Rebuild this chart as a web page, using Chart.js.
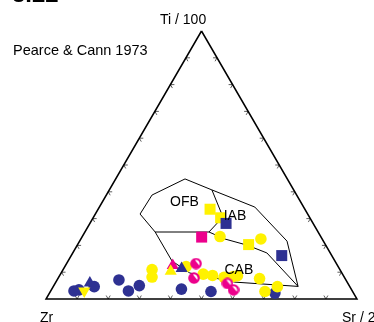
<!DOCTYPE html>
<html lang="en">
<head>
  <meta charset="utf-8"/>
  <title>Ti-Zr-Sr Pearce & Cann 1973</title>
  <script src="https://cdn.jsdelivr.net/npm/chart.js"></script>
  <style>
    html, body { margin: 0; padding: 0; background: #fff; }
    #chart { display: block; }
  </style>
</head>
<body>
  <canvas id="chart" width="374" height="322"></canvas>

<script>
  // all compositions are [Ti/100, Zr, Sr/2] in percent
  const corners = [[100, 0, 0], [0, 100, 0], [0, 0, 100], [100, 0, 0]];
  const tickSteps = [10, 20, 30, 40, 50, 60, 70, 80, 90];

  // field boundaries
  const outerField = [[31.7, 53.9, 14.4], [38.8, 46.5, 14.7], [44.8, 32.9, 22.3], [40.7, 26.3, 33.0],
    [34.3, 15.7, 50.0], [21.6, 11.7, 66.7], [4.7, 16.6, 78.7], [6.3, 36.1, 57.6], [9.7, 48.9, 41.4],
    [14.2, 52.4, 33.4], [25.0, 52.4, 22.6], [31.7, 53.9, 14.4]];
  const ofbCabLine = [[25.0, 52.4, 22.6], [25.0, 35.1, 39.9]];
  const ofbIabLine = [[40.7, 26.3, 33.0], [30.6, 27.8, 41.6], [25.0, 35.1, 39.9]];
  const iabCabLine = [[25.0, 35.1, 39.9], [22.4, 31.3, 46.4], [20.1, 25.3, 54.6], [17.2, 20.4, 62.5], [4.7, 16.6, 78.7]];
  const fieldNames = ['OFB', 'IAB', 'CAB'];
  const fieldNameSpots = [[36.4, 37.3, 26.3], [31.3, 23.6, 45.1], [11.2, 32.4, 56.4]];

  // samples
  const navyCircles = [[3.0, 89.5, 7.5], [3.4, 87.7, 8.9], [4.6, 82.2, 13.2], [7.1, 73.0, 19.9],
    [3.0, 72.0, 25.0], [5.0, 67.5, 27.5], [3.7, 54.6, 41.7], [2.8, 45.6, 51.7], [2.2, 25.3, 72.5]];
  const navyTriangles = [[6.0, 82.9, 11.1], [11.4, 50.7, 37.9]];
  const navySquares = [[28.2, 28.0, 43.8], [16.2, 16.1, 67.7]];
  const yellowCircles = [[11.0, 60.4, 28.6], [8.2, 61.8, 30.0], [12.1, 48.9, 39.0], [9.3, 44.8, 45.9],
    [8.8, 42.1, 49.2], [8.1, 38.7, 53.2], [8.4, 35.6, 56.0], [8.7, 34.1, 57.2], [7.6, 27.5, 64.8],
    [2.8, 28.2, 69.0], [4.6, 23.3, 72.1], [23.3, 32.4, 44.3], [22.4, 19.7, 57.9]];
  const yellowSquares = [[33.5, 30.5, 36.0], [30.3, 28.7, 41.0], [20.3, 24.7, 55.0]];
  const yellowTriangles = [[10.4, 54.7, 34.9]];
  const yellowDownTriangles = [[3.0, 86.2, 10.8]];
  const magentaSquares = [[23.1, 38.4, 38.5]];
  const magentaTriangles = [[12.5, 53.0, 34.5]];
  const magentaHalfCircles = [[13.2, 45.1, 41.6], [7.8, 48.5, 43.7], [5.8, 38.8, 55.5], [3.4, 38.0, 58.6]];

  const NAVY = '#2e3192';
  const YELLOW = '#fff200';
  const MAGENTA = '#ec008c';

  // ternary -> cartesian (x along base, y = Ti fraction)
  function toXY(c) {
    const s = c[0] + c[1] + c[2];
    return { x: (c[2] + c[0] / 2) / s, y: c[0] / s };
  }

  // half filled magenta symbol
  const halfDot = document.createElement('canvas');
  halfDot.width = 12; halfDot.height = 12;
  (function () {
    const g = halfDot.getContext('2d');
    g.fillStyle = MAGENTA;
    g.beginPath(); g.arc(6, 6, 5.8, 0, Math.PI * 2); g.fill();
    g.fillStyle = '#fff';
    g.beginPath(); g.arc(6, 6, 3.6, -Math.PI * 0.6, Math.PI * 0.15); g.closePath(); g.fill();
  })();

  function pts(arr, color, style, r, rot) {
    return {
      data: arr.map(toXY),
      pointStyle: style,
      pointRadius: r,
      pointRotation: rot || 0,
      backgroundColor: color,
      borderColor: color,
      pointBorderWidth: 0,
      showLine: false
    };
  }

  function line(arr, w) {
    return {
      data: arr.map(toXY),
      showLine: true,
      borderColor: '#000',
      borderWidth: w,
      pointRadius: 0,
      fill: false
    };
  }

  const LW = Math.SQRT2 * 5.5;  // square of about 11px

  const ternaryDecor = {
    id: 'ternaryDecor',
    beforeDatasetsDraw(chart) {
      const ctx = chart.ctx;
      const xs = chart.scales.x, ys = chart.scales.y;
      const P = (c) => { const q = toXY(c); return [xs.getPixelForValue(q.x), ys.getPixelForValue(q.y)]; };
      const A = P([100, 0, 0]), L = P([0, 100, 0]), R = P([0, 0, 100]);
      const norm = (v) => { const d = Math.hypot(v[0], v[1]); return [v[0] / d, v[1] / d]; };
      const upRight = norm([A[0] - L[0], A[1] - L[1]]);
      const upLeft = norm([A[0] - R[0], A[1] - R[1]]);
      const len = 4;
      ctx.save();
      ctx.strokeStyle = '#333';
      ctx.lineWidth = 0.8;
      const tick = (p, d1, d2) => {
        ctx.beginPath();
        ctx.moveTo(p[0] + d1[0] * len, p[1] + d1[1] * len);
        ctx.lineTo(p[0], p[1]);
        ctx.lineTo(p[0] + d2[0] * len, p[1] + d2[1] * len);
        ctx.stroke();
      };
      tickSteps.forEach(t => {
        tick(P([0, 100 - t, t]), upRight, upLeft);
        tick(P([t, 100 - t, 0]), [1, 0], [-upLeft[0], -upLeft[1]]);
        tick(P([t, 0, 100 - t]), [-1, 0], [-upRight[0], -upRight[1]]);
      });
      ctx.restore();
    },
    afterDraw(chart) {
      const ctx = chart.ctx;
      const xs = chart.scales.x, ys = chart.scales.y;
      ctx.save();
      ctx.fillStyle = '#000';
      ctx.font = '14px "Liberation Sans", Arial, sans-serif';
      ctx.textBaseline = 'alphabetic';
      ctx.textAlign = 'left';
      ctx.fillText('Ti / 100', 160, 24);
      ctx.fillText('Zr', 40, 321.5);
      ctx.fillText('Sr / 2', 342, 321.5);
      ctx.font = '14.5px "Liberation Sans", Arial, sans-serif';
      ctx.fillText('Pearce & Cann 1973', 13, 55);
      ctx.font = 'bold 24px "Liberation Sans", Arial, sans-serif';
      ctx.fillText('3.22', 12, 2);
      ctx.font = '14px "Liberation Sans", Arial, sans-serif';
      ctx.textAlign = 'center';
      ctx.textBaseline = 'middle';
      fieldNames.forEach((n, i) => {
        const q = toXY(fieldNameSpots[i]);
        ctx.fillText(n, xs.getPixelForValue(q.x), ys.getPixelForValue(q.y) + 1);
      });
      ctx.restore();
    }
  };

  new Chart(document.getElementById('chart'), {
    type: 'scatter',
    data: {
      datasets: [
        pts(yellowDownTriangles, YELLOW, 'triangle', 7, 180),
        pts(navySquares, NAVY, 'rect', LW),
        pts(magentaSquares, MAGENTA, 'rect', LW),
        pts(yellowSquares, YELLOW, 'rect', LW),
        pts(navyTriangles, NAVY, 'triangle', 7),
        pts(yellowTriangles, YELLOW, 'triangle', 7),
        pts(magentaTriangles, MAGENTA, 'triangle', 7),
        pts(magentaHalfCircles, MAGENTA, halfDot, 6),
        pts(yellowCircles, YELLOW, 'circle', 5.8),
        pts(navyCircles, NAVY, 'circle', 5.8),
        line(ofbCabLine, 1),
        line(ofbIabLine, 1),
        line(iabCabLine, 1),
        line(outerField, 1),
        line(corners, 1.5)
      ]
    },
    options: {
      responsive: false,
      animation: false,
      devicePixelRatio: 1,
      layout: { padding: { left: 46, right: 17, top: 31, bottom: 23 } },
      scales: {
        x: { type: 'linear', min: 0, max: 1, display: false },
        y: { type: 'linear', min: 0, max: 1, display: false }
      },
      elements: { line: { tension: 0 } },
      datasets: { scatter: { clip: false } },
      plugins: {
        legend: { display: false },
        tooltip: { enabled: false }
      }
    },
    plugins: [ternaryDecor]
  });
</script>
</body>
</html>
